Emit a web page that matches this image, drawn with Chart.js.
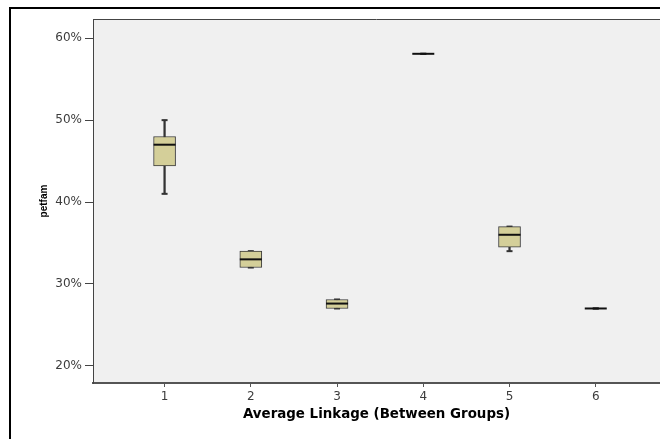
<!doctype html>
<html>
<head>
<title>petfam by cluster</title>
<script src="https://cdn.jsdelivr.net/npm/chart.js"></script>
<style>
  html, body { margin: 0; background: #fff; overflow: hidden; }
  #wrap { position: absolute; left: 0; top: 0; width: 660px; height: 439px; }
  #frame { position: absolute; left: 9px; top: 7px; width: 649px; height: 430px;
           border-top: 2px solid #000; border-left: 2px solid #000; pointer-events: none; }
</style>
</head>
<body>
<div id="wrap"><canvas id="chart" width="660" height="439"></canvas></div>
<div id="frame"></div>
<script>
    // clusters (Average Linkage) and box plot stats, percent
    const groups = [1, 2, 3, 4, 5, 6];
    const lowWhisker = [41, 32, 27, 58.1, 34, 27];
    const q1 = [44.4, 32, 27, 58.1, 34.5, 27];
    const median = [47, 33, 27.6, 58.1, 36, 27];
    const q3 = [48, 34, 28.1, 58.1, 37, 27];
    const highWhisker = [50, 34, 28.1, 58.1, 37, 27];
    const yTicks = [20, 30, 40, 50, 60];

    const plotBg = {
        id: 'plotBg',
        beforeDraw(chart) {
            const {ctx, chartArea: a} = chart;
            ctx.save();
            ctx.fillStyle = '#f0f0f0';
            ctx.fillRect(a.left, a.top, a.right - a.left, a.bottom - a.top);
            ctx.strokeStyle = '#444';
            ctx.lineWidth = 1;
            ctx.beginPath();
            ctx.moveTo(a.left, a.top + 0.5);
            ctx.lineTo(a.right, a.top + 0.5);
            ctx.stroke();
            ctx.restore();
        }
    };

    const ctx = document.getElementById('chart').getContext('2d');
    const chart = new Chart(ctx, {
        type: 'bar',
        data: {
            datasets: [{
                label: 'whisker',
                data: groups.map((g, i) => ({x: g, y: [lowWhisker[i], highWhisker[i]]})),
                backgroundColor: '#333',
                barThickness: 1.6,
                grouped: false,
                order: 3
            }, {
                label: 'caps',
                type: 'line',
                showLine: false,
                data: groups.map((g, i) => ({x: g, y: lowWhisker[i]}))
                    .concat(groups.map((g, i) => ({x: g, y: highWhisker[i]}))),
                pointStyle: 'line',
                pointRadius: 3,
                borderColor: '#333',
                borderWidth: 2,
                order: 2
            }, {
                label: 'box',
                data: groups.map((g, i) => ({x: g, y: [q1[i], q3[i]]})),
                backgroundColor: '#d4cf99',
                borderColor: '#3a3a3a',
                borderWidth: 1,
                borderSkipped: false,
                barThickness: 22,
                grouped: false,
                order: 1
            }, {
                label: 'median',
                type: 'line',
                showLine: false,
                data: groups.map((g, i) => ({x: g, y: median[i]})),
                pointStyle: 'line',
                pointRadius: 11,
                borderColor: '#111',
                borderWidth: 2,
                order: 0
            }]
        },
        options: {
            responsive: false,
            animation: false,
            layout: { autoPadding: false, padding: { top: 19, left: 0, right: 0, bottom: 0 } },
            plugins: {
                legend: { display: false },
                tooltip: { enabled: false }
            },
            scales: {
                x: {
                    type: 'linear',
                    offset: false,
                    min: 0.17,
                    max: 6.745,
                    afterBuildTicks: s => { s.ticks = groups.map(v => ({value: v})); },
                    afterFit: s => { s.height = 56; s.paddingRight = 0; s.paddingLeft = 0; },
                    ticks: {
                        color: '#3c3c3c',
                        font: { family: 'DejaVu Sans', size: 12 },
                        padding: 3
                    },
                    grid: { offset: false, drawOnChartArea: false, drawTicks: true, tickLength: 4, tickColor: '#555' },
                    border: { color: '#555', width: 2 },
                    title: {
                        display: true,
                        text: 'Average Linkage (Between Groups)',
                        color: '#000',
                        font: { family: 'DejaVu Sans', size: 13.4, weight: 'bold' },
                        padding: { top: 0, bottom: 16 }
                    }
                },
                y: {
                    min: 17.9,
                    max: 62.35,
                    afterBuildTicks: s => { s.ticks = yTicks.map(v => ({value: v})); },
                    afterFit: s => { s.width = 93; },
                    ticks: {
                        color: '#3c3c3c',
                        font: { family: 'DejaVu Sans', size: 12 },
                        padding: 3,
                        callback: v => v + '%'
                    },
                    grid: { drawOnChartArea: false, drawTicks: true, tickLength: 8, tickColor: '#444' },
                    border: { color: '#444', width: 1 },
                    title: {
                        display: true,
                        text: 'petfam',
                        color: '#000',
                        font: { family: 'Liberation Sans', size: 10, weight: 'bold' },
                        padding: { top: 38, bottom: 0 }
                    }
                }
            }
        },
        plugins: [plotBg]
    });
</script>
</body>
</html>
